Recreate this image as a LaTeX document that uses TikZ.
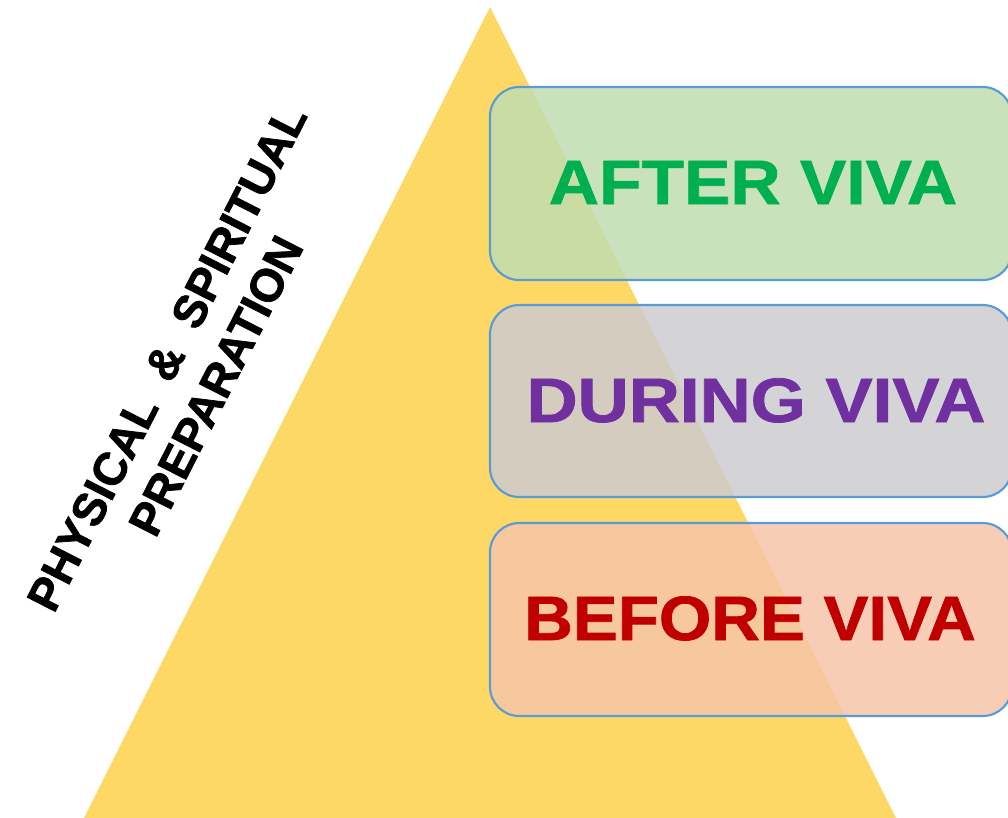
\documentclass[tikz,border=0pt]{standalone}
\usepackage{fontspec}
\usepackage{graphicx}
\setmainfont{Liberation Sans}
\newfontfamily\heavyfont{Liberation Sans Bold}[FakeBold=1.2]
\newfontfamily\sidefont{Liberation Sans Bold}[FakeBold=1.6]
\definecolor{tri}{HTML}{FDD865}
\definecolor{bord}{HTML}{5B9BD5}
\definecolor{gfill}{HTML}{C0DDB0}
\definecolor{pfill}{HTML}{CDCBCF}
\definecolor{rfill}{HTML}{F6C6A8}
\definecolor{gtext}{HTML}{00B050}
\definecolor{ptext}{HTML}{7030A0}
\definecolor{rtext}{HTML}{C00000}
\tikzset{
  stagebox/.style={draw=bord, line width=1.6pt, rounded corners=22pt, fill opacity=0.85},
  stagetext/.style={anchor=base, inner sep=0pt, font=\fontsize{47pt}{50pt}\selectfont\heavyfont},
  sidetext/.style={anchor=base, inner sep=0pt, rotate=63, font=\fontsize{34.5pt}{40pt}\selectfont\sidefont}
}
\newcommand{\wide}[2]{\scalebox{#1}[1]{#2}}
\begin{document}
\begin{tikzpicture}[x=0.75pt, y=-0.75pt]
\useasboundingbox (0,0) rectangle (1008,818);
\clip (0,0) rectangle (1008,818);
% pyramid
\fill[tri] (490,7) -- (896,818) -- (84,818) -- cycle;
% boxes
\draw[stagebox, fill=gfill] (490,87) rectangle (1012,280);
\draw[stagebox, fill=pfill] (490,305) rectangle (1012,497);
\draw[stagebox, fill=rfill] (490,523) rectangle (1012,716);
% box texts
\node[stagetext, text=gtext] (after) at (753,204) {\wide{1.11}{AFTER VIVA}};
\node[stagetext, text=ptext] (during) at (756,422) {\wide{1.13}{DURING VIVA}};
\node[stagetext, text=rtext] (before) at (750,640) {\wide{1.075}{BEFORE VIVA}};
% side texts
\node[sidetext] (phys) at (181,365) {PHYSICAL\ \ \&\ \ SPIRITUAL};
\node[sidetext] (prep) at (230,393) {PREPARATION};
\end{tikzpicture}
\end{document}
